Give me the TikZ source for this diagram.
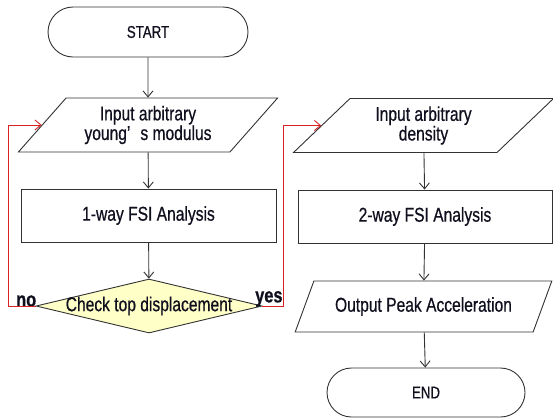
\documentclass[tikz,border=0pt]{standalone}
\usepackage{fontspec}
\setmainfont{Liberation Sans}[FakeStretch=0.78,FakeBold=0.6]
\usetikzlibrary{shapes.geometric,shapes.misc,arrows.meta}
\definecolor{lc}{RGB}{50,50,50}
\definecolor{rc}{RGB}{215,35,35}
\definecolor{dfill}{RGB}{255,255,200}
\definecolor{tc}{RGB}{15,15,30}
\tikzset{
  base/.style={draw=lc, line width=0.9pt, inner sep=0pt, text=tc, font=\fontsize{20}{18}\selectfont, align=center},
  term/.style={base, rounded rectangle, minimum width=#1, minimum height=50pt},
  io/.style={base, trapezium, trapezium stretches=true, trapezium left angle=46, trapezium right angle=134, minimum height=54pt, minimum width=260pt},
  proc/.style={base, rectangle, minimum width=255pt, minimum height=53pt},
  dec/.style={base, diamond, aspect=4.2, fill=dfill, minimum width=226pt, minimum height=54pt},
  arr/.style={draw=lc, line width=0.9pt, -{Straight Barb[length=6pt,width=10pt]}},
  redarr/.style={draw=rc, line width=0.9pt, -{Straight Barb[length=6pt,width=10pt]}},
  lbl/.style={font=\fontsize{21}{22}\bfseries\selectfont, text=tc, inner sep=0pt}
}
\begin{document}
\begin{tikzpicture}[x=1pt,y=-1pt]
\useasboundingbox (0,0) rectangle (553,418);
\node[term=200pt] (start) at (148,32) {\fontsize{17}{17}\selectfont START};
\node[io] (in1) at (148,125) {Input arbitrary\\young'\enspace s modulus};
\node[proc] (fsi1) at (148.5,215.5) {1-way FSI Analysis};
\node[dec] (chk) at (149,306) {\makebox[0pt]{Check top displacement}};
\node[io] (in2) at (423.5,125.5) {Input arbitrary\\density};
\node[base, rectangle, minimum width=254pt, minimum height=53pt] (fsi2) at (425,216.5) {2-way FSI Analysis};
\node[io, minimum width=257pt, minimum height=51pt, trapezium left angle=51, trapezium right angle=129] (out) at (423.5,306.5) {Output Peak Acceleration};
\node[term=198pt, minimum height=49pt] (end) at (426,392.5) {\fontsize{17}{17}\selectfont END};
\coordinate (nl) at (8,306);
\coordinate (yr) at (283,306);
\node[lbl, anchor=south west] (no) at (16,307) {no};
\node[lbl, anchor=south west] (yes) at (255,307) {yes};
\draw[arr] (start) -- (in1);
\draw[arr] (in1) -- (fsi1);
\draw[arr] (fsi1) -- (chk);
\draw[arr] (in2) -- (fsi2);
\draw[arr] (fsi2) -- (out);
\draw[arr] (out) -- (end);
\draw[redarr] (chk.west) -- (nl) |- (in1.180);
\draw[redarr] (chk.east) -- (yr) |- (in2.180);
\end{tikzpicture}
\end{document}
